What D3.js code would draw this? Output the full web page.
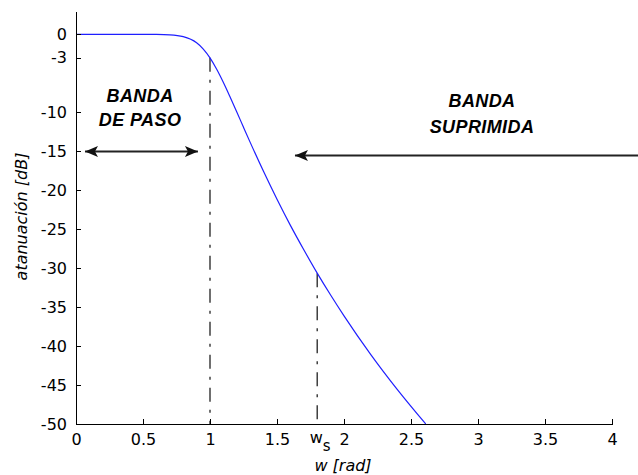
<!DOCTYPE html>
<html>
<head>
<meta charset="utf-8">
<script src="https://cdn.jsdelivr.net/npm/d3@7"></script>
<style>
  body { margin: 0; background: #fff; }
  .axis text { font-family: "DejaVu Sans", sans-serif; font-size: 16px; fill: #000; }
  .axis path, .axis line { stroke: #000; shape-rendering: crispEdges; }
</style>
</head>
<body>
<div id="chart"></div>
<script>
// frequency (rad) and attenuation (dB)
var freq  = [0, 0.5, 0.6, 0.7, 0.8, 0.9, 0.95, 1.0, 1.05, 1.1, 1.15, 1.2, 1.25, 1.3, 1.4, 1.5, 1.6, 1.7, 1.8, 1.9, 2.0, 2.2, 2.4, 2.61];
var atten = [0, 0, -0.01, -0.06, -0.29, -1.08, -1.88, -3.01, -4.47, -6.17, -8.03, -9.96, -11.92, -13.86, -17.61, -21.16, -24.51, -27.64, -30.64, -33.45, -36.12, -41.09, -45.62, -50];

var xTicks = [0, 0.5, 1, 1.5, 2, 2.5, 3, 3.5, 4];
var yTicks = [0, -3, -10, -15, -20, -25, -30, -35, -40, -45, -50];

// cut-off of the pass band and start of the stop band
var passEdge = [1, -3.01];
var stopEdge = [1.8, -30.64];

(function () {

  var margin = { top: 11, left: 76, right: 26, bottom: 51 },
      width = 638 - margin.left - margin.right,
      height = 475 - margin.top - margin.bottom;

  var svg = d3.select("#chart")
      .append("svg")
      .attr("width", 638)
      .attr("height", 475)
      .append("g")
      .attr("transform", "translate(" + margin.left + "," + margin.top + ")");

  var xPositionScale = d3.scaleLinear()
    .domain([0, 4])
    .range([0, width]);

  var yPositionScale = d3.scaleLinear()
    .domain([-50, 3])
    .range([height, 0]);

  var points = freq.map(function (f, i) { return [f, atten[i]]; });

  // dash-dot guide lines
  [passEdge, stopEdge].forEach(function (p) {
    svg.append("line")
      .attr("x1", xPositionScale(p[0]))
      .attr("x2", xPositionScale(p[0]))
      .attr("y1", yPositionScale(p[1]))
      .attr("y2", yPositionScale(-50))
      .attr("stroke", "#222")
      .attr("stroke-width", 1.3)
      .attr("stroke-dasharray", "14,8,3,8");
  });

  var line = d3.line()
    .x(function (d) { return xPositionScale(d[0]); })
    .y(function (d) { return yPositionScale(d[1]); })
    .curve(d3.curveMonotoneX);

  svg.append("path")
    .datum(points)
    .attr("d", line)
    .attr("fill", "none")
    .attr("stroke", "#1f1fff")
    .attr("stroke-width", 1.2);

  var xAxis = d3.axisBottom(xPositionScale)
    .tickValues(xTicks)
    .tickFormat(d3.format("~g"))
    .tickSizeInner(-5)
    .tickSizeOuter(0)
    .tickPadding(10);

  svg.append("g")
    .attr("class", "axis x-axis")
    .attr("transform", "translate(0," + height + ")")
    .call(xAxis);

  var yAxis = d3.axisLeft(yPositionScale)
    .tickValues(yTicks)
    .tickFormat(function (d) { return d === 0 ? "0" : "-" + Math.abs(d); })
    .tickSizeInner(-5)
    .tickSizeOuter(0)
    .tickPadding(9);

  svg.append("g")
    .attr("class", "axis y-axis")
    .call(yAxis);

  // arrows
  function arrowHead(x, y, dir) {
    var len = 13, half = 5.5;
    svg.append("path")
      .attr("d", "M" + x + "," + y +
                 "L" + (x - dir * len) + "," + (y - half) +
                 "L" + (x - dir * len + dir * 3) + "," + y +
                 "L" + (x - dir * len) + "," + (y + half) + "Z")
      .attr("fill", "#111");
  }

  var passArrow = { x1: 0.067, x2: 0.91, y: -15 };
  var stopArrow = { x1: 1.634, x2: 4.3, y: -15.48 };

  [passArrow, stopArrow].forEach(function (a) {
    svg.append("line")
      .attr("x1", xPositionScale(a.x1))
      .attr("x2", xPositionScale(a.x2))
      .attr("y1", Math.round(yPositionScale(a.y)) + 0.5)
      .attr("y2", Math.round(yPositionScale(a.y)) + 0.5)
      .attr("stroke", "#222")
      .attr("stroke-width", 1.8);
  });
  arrowHead(xPositionScale(passArrow.x1), Math.round(yPositionScale(passArrow.y)) + 0.5, -1);
  arrowHead(xPositionScale(passArrow.x2), Math.round(yPositionScale(passArrow.y)) + 0.5, 1);
  arrowHead(xPositionScale(stopArrow.x1), Math.round(yPositionScale(stopArrow.y)) + 0.5, -1);

  // band labels
  var bandLabels = [
    { text: "BANDA", x: 0.478, y: -8.68 },
    { text: "DE PASO", x: 0.478, y: -11.76 },
    { text: "BANDA", x: 3.03, y: -9.32 },
    { text: "SUPRIMIDA", x: 3.03, y: -12.6 }
  ];

  svg.selectAll(".band-label")
    .data(bandLabels)
    .enter().append("text")
    .attr("class", "band-label")
    .text(function (d) { return d.text; })
    .attr("x", function (d) { return xPositionScale(d.x); })
    .attr("y", function (d) { return yPositionScale(d.y); })
    .attr("text-anchor", "middle")
    .style("font-family", "'Liberation Sans', Arial, sans-serif")
    .style("font-size", "18px")
    .style("font-weight", "bold")
    .style("font-style", "italic")
    .style("letter-spacing", "0.4px");

  // w_s marker label
  var ws = svg.append("text")
    .attr("x", xPositionScale(stopEdge[0]) + 3)
    .attr("y", height + 19)
    .attr("text-anchor", "middle")
    .style("font-family", "'DejaVu Sans', sans-serif")
    .style("font-size", "16px");
  ws.append("tspan").text("w");
  ws.append("tspan").attr("dy", 8).style("font-size", "15px").text("s");

  // axis titles
  svg.append("text")
    .text("w [rad]")
    .attr("x", width / 2 - 1)
    .attr("y", height + 47)
    .attr("text-anchor", "middle")
    .style("font-family", "'DejaVu Sans', sans-serif")
    .style("font-size", "16px")
    .style("font-style", "italic");

  svg.append("text")
    .text("atanuación [dB]")
    .attr("transform", "translate(" + (27 - margin.left) + "," + (height / 2 - 1) + ") rotate(-90)")
    .attr("text-anchor", "middle")
    .style("font-family", "'DejaVu Sans', sans-serif")
    .style("font-size", "16px")
    .style("font-style", "italic");

})();
</script>
</body>
</html>
